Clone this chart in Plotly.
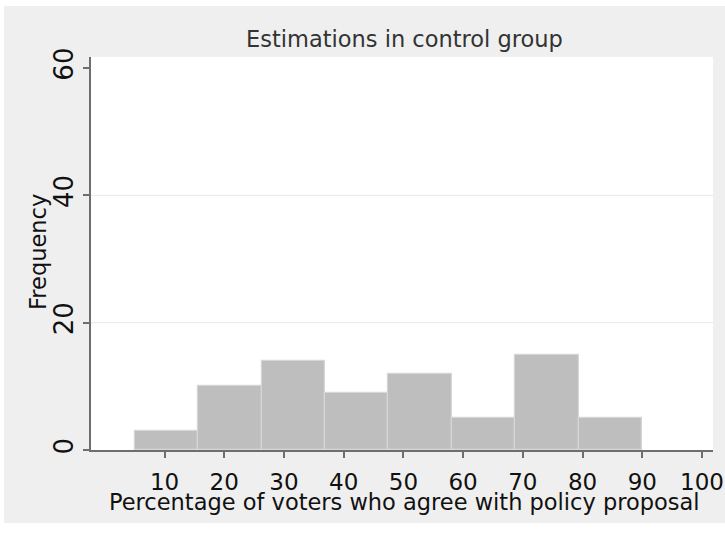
import plotly.graph_objects as go

# Data
bin_edges = [5, 15.625, 26.25, 36.875, 47.5, 58.125, 68.75, 79.375, 90]
counts = [3, 10, 14, 9, 12, 5, 15, 5]
x_ticks = [10, 20, 30, 40, 50, 60, 70, 80, 90, 100]
y_ticks = [0, 20, 40, 60]
grid_values = [20, 40]

title_text = "Estimations in control group"
x_title = "Percentage of voters who agree with policy proposal"
y_title = "Frequency"

centers = [(a + b) / 2 for a, b in zip(bin_edges[:-1], bin_edges[1:])]
widths = [b - a for a, b in zip(bin_edges[:-1], bin_edges[1:])]

W, H = 725, 533
L, R, T, B = 91, 12, 57, 83
FONT = "DejaVu Sans, Liberation Sans, Arial, sans-serif"

fig = go.Figure()
fig.add_trace(go.Bar(
    x=centers, y=counts, width=widths,
    marker=dict(color="#bebebe", line=dict(color="#d6d6d6", width=1.2)),
    showlegend=False, hoverinfo="x+y",
))

shapes = []
for g in grid_values:
    shapes.append(dict(type="line", xref="paper", yref="y", x0=0, x1=1, y0=g, y1=g,
                       line=dict(color="#e8e8e8", width=1), layer="below"))

pw = W - L - R
ph = H - T - B
def px_to_paper_x(px):
    return (px - L) / pw
def px_to_paper_y(py):
    return (H - B - py) / ph
for (x0, y0, x1, y1) in [(0, 0, 4, H), (0, 0, W, 6), (0, 523, W, H)]:
    shapes.append(dict(type="rect", xref="paper", yref="paper",
                       x0=px_to_paper_x(x0), x1=px_to_paper_x(x1),
                       y0=px_to_paper_y(y1), y1=px_to_paper_y(y0),
                       fillcolor="white", line=dict(width=0), layer="above"))

annotations = [
    dict(text=title_text, xref="paper", yref="paper",
         x=px_to_paper_x(404), y=px_to_paper_y(39.5), xanchor="center", yanchor="middle",
         showarrow=False, font=dict(family=FONT, size=22.5, color="#333333")),
    dict(text=x_title, xref="paper", yref="paper",
         x=px_to_paper_x(405), y=px_to_paper_y(502), xanchor="center", yanchor="middle",
         showarrow=False, font=dict(family=FONT, size=22.5, color="#111111")),
    dict(text=y_title, xref="paper", yref="paper",
         x=px_to_paper_x(38), y=px_to_paper_y(252), xanchor="center", yanchor="middle",
         textangle=-90, showarrow=False, font=dict(family=FONT, size=22.5, color="#111111")),
]

fig.update_layout(
    width=W, height=H,
    margin=dict(l=L, r=R, t=T, b=B, autoexpand=False),
    paper_bgcolor="#efefef", plot_bgcolor="white",
    font=dict(family=FONT, size=23, color="#111111"),
    bargap=0,
    shapes=shapes, annotations=annotations,
    xaxis=dict(range=[-2.31, 101.84], tickvals=x_ticks, ticks="outside", ticklen=6,
               tickcolor="#6e6e6e", tickwidth=1.5, showline=True, linecolor="#6e6e6e",
               linewidth=2, showgrid=False, zeroline=False, automargin=False,
               tickfont=dict(family=FONT, size=23, color="#111111"), ticklabelstandoff=4),
    yaxis=dict(range=[0, 61.73], tickvals=y_ticks, ticks="outside", ticklen=6,
               tickcolor="#6e6e6e", tickwidth=1.5, showline=True, linecolor="#6e6e6e",
               linewidth=2, showgrid=False, zeroline=False, tickangle=-90, automargin=False,
               tickfont=dict(family=FONT, size=26, color="#111111"), ticklabelstandoff=0),
)

fig.write_html("out.html", config={"displayModeBar": False},
               post_script="document.body.style.margin='0';document.body.style.overflow='hidden';")
